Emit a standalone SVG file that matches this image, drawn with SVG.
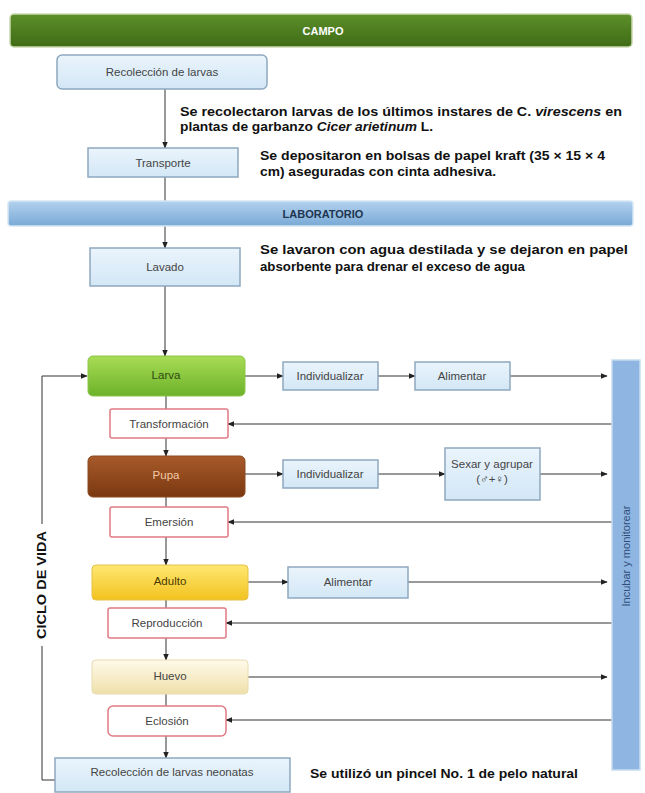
<svg xmlns="http://www.w3.org/2000/svg" width="645" height="793" viewBox="0 0 645 793">
<defs>
<linearGradient id="gGreenBar" x1="0" y1="0" x2="0" y2="1"><stop offset="0" stop-color="#5d8f2a"/><stop offset="1" stop-color="#3f6b16"/></linearGradient>
<linearGradient id="gBlueBar" x1="0" y1="0" x2="0" y2="1"><stop offset="0" stop-color="#b4d2ee"/><stop offset="1" stop-color="#78a9d6"/></linearGradient>
<linearGradient id="gBox" x1="0" y1="0" x2="0" y2="1"><stop offset="0" stop-color="#eaf4fc"/><stop offset="1" stop-color="#d3e7f6"/></linearGradient>
<linearGradient id="gLarva" x1="0" y1="0" x2="0" y2="1"><stop offset="0" stop-color="#a8dc55"/><stop offset="1" stop-color="#6cb22a"/></linearGradient>
<linearGradient id="gPupa" x1="0" y1="0" x2="0" y2="1"><stop offset="0" stop-color="#a85a2a"/><stop offset="1" stop-color="#7a3810"/></linearGradient>
<linearGradient id="gAdulto" x1="0" y1="0" x2="0" y2="1"><stop offset="0" stop-color="#ffe872"/><stop offset="1" stop-color="#f2c21e"/></linearGradient>
<linearGradient id="gHuevo" x1="0" y1="0" x2="0" y2="1"><stop offset="0" stop-color="#fffaea"/><stop offset="1" stop-color="#efe0aa"/></linearGradient>
<marker id="arr" viewBox="0 0 10 10" refX="9" refY="5" markerWidth="7" markerHeight="7" orient="auto-start-reverse" markerUnits="userSpaceOnUse"><path d="M0,1 L10,5 L0,9 Z" fill="#222"/></marker>
</defs>
<style>
.lbl{font-family:"Liberation Sans",Arial,sans-serif;font-size:11.5px;fill:#444;text-anchor:middle;dominant-baseline:central}
.note{font-family:"Liberation Sans",Arial,sans-serif;font-size:12px;font-weight:bold;fill:#111}
.bx{fill:url(#gBox);stroke:#8ea8bf;stroke-width:1.5}
.rd{fill:#fff;stroke:#e07a82;stroke-width:1.5}
.ln{fill:none;stroke:#333;stroke-width:1}
.ar{fill:none;stroke:#333;stroke-width:1;marker-end:url(#arr)}
</style>
<rect width="645" height="793" fill="#fff"/>

<g id="connectors">
<line class="ar" x1="165" y1="89" x2="165" y2="148"/>
<line class="ln" x1="165" y1="177" x2="165" y2="201"/>
<line class="ar" x1="165" y1="226" x2="165" y2="248"/>
<line class="ar" x1="165" y1="286" x2="165" y2="356"/>
<line class="ln" x1="166" y1="396" x2="166" y2="409"/>
<line class="ar" x1="166" y1="438" x2="166" y2="456"/>
<line class="ln" x1="166" y1="497" x2="166" y2="507"/>
<line class="ar" x1="166" y1="537" x2="166" y2="565"/>
<line class="ln" x1="166" y1="600" x2="166" y2="608"/>
<line class="ar" x1="166" y1="638" x2="166" y2="660"/>
<line class="ln" x1="166" y1="694" x2="166" y2="706"/>
<line class="ar" x1="166" y1="736" x2="166" y2="758"/>
<line class="ar" x1="245" y1="376" x2="283" y2="376"/>
<line class="ar" x1="378" y1="376" x2="415" y2="376"/>
<line class="ar" x1="510" y1="376" x2="607" y2="376"/>
<line class="ar" x1="245" y1="474" x2="283" y2="474"/>
<line class="ar" x1="378" y1="474" x2="445" y2="474"/>
<line class="ar" x1="540" y1="474" x2="607" y2="474"/>
<line class="ar" x1="248" y1="582" x2="288" y2="582"/>
<line class="ar" x1="408" y1="582" x2="607" y2="582"/>
<line class="ar" x1="248" y1="677" x2="607" y2="677"/>
<line class="ar" x1="612" y1="424" x2="228" y2="424"/>
<line class="ar" x1="612" y1="522" x2="228" y2="522"/>
<line class="ar" x1="612" y1="623" x2="226" y2="623"/>
<line class="ar" x1="612" y1="720" x2="226" y2="720"/>
<polyline class="ln" points="55,780 42,780 42,646"/>
<polyline class="ar" points="42,524 42,376 87,376"/>
</g>

<g id="campo"><rect x="10" y="14" width="622" height="33" rx="4" fill="url(#gGreenBar)" stroke="#c9d9b0" stroke-width="1.5"/><text x="323" y="30.5" class="lbl" style="fill:#fff;font-weight:bold;font-size:11px">CAMPO</text></g>
<g id="recoleccion"><rect class="bx" x="57" y="55" width="210" height="34" rx="5"/><text x="162" y="72" class="lbl">Recolección de larvas</text></g>
<g id="nota1"><text class="note" x="180" y="116" textLength="442" lengthAdjust="spacingAndGlyphs">Se recolectaron larvas de los últimos instares de C. <tspan font-style="italic">virescens</tspan> en</text><text class="note" x="180" y="131" textLength="253" lengthAdjust="spacingAndGlyphs">plantas de garbanzo <tspan font-style="italic">Cicer arietinum</tspan> L.</text></g>
<g id="transporte"><rect class="bx" x="88" y="148" width="150" height="29"/><text x="163" y="162.5" class="lbl">Transporte</text></g>
<g id="nota2"><text class="note" x="260" y="160" textLength="345" lengthAdjust="spacingAndGlyphs">Se depositaron en bolsas de papel kraft (35 × 15 × 4</text><text class="note" x="260" y="176" textLength="236" lengthAdjust="spacingAndGlyphs">cm) aseguradas con cinta adhesiva.</text></g>
<g id="laboratorio"><rect x="8" y="201" width="625" height="25" rx="3" fill="url(#gBlueBar)" stroke="#d6e6f4" stroke-width="1.5"/><text x="323" y="213.5" class="lbl" style="fill:#1f3550;font-weight:bold;font-size:11px">LABORATORIO</text></g>
<g id="lavado"><rect class="bx" x="90" y="248" width="150" height="38"/><text x="165" y="267" class="lbl">Lavado</text></g>
<g id="nota3"><text class="note" x="260" y="254" textLength="368" lengthAdjust="spacingAndGlyphs">Se lavaron con agua destilada y se dejaron en papel</text><text class="note" x="260" y="271" textLength="265" lengthAdjust="spacingAndGlyphs">absorbente para drenar el exceso de agua</text></g>

<g id="larva"><rect x="88" y="356" width="157" height="40" rx="5" fill="url(#gLarva)" stroke="#8cc44a"/><text x="166" y="375" class="lbl" style="fill:#2d4a10">Larva</text></g>
<g id="individualizar1"><rect class="bx" x="283" y="362" width="95" height="28"/><text x="330" y="376" class="lbl">Individualizar</text></g>
<g id="alimentar1"><rect class="bx" x="415" y="362" width="95" height="28"/><text x="462" y="376" class="lbl">Alimentar</text></g>
<g id="transformacion"><rect class="rd" x="110" y="409" width="118" height="29" rx="2"/><text x="169" y="423.5" class="lbl">Transformación</text></g>
<g id="pupa"><rect x="88" y="456" width="157" height="41" rx="5" fill="url(#gPupa)" stroke="#8a4a20"/><text x="166" y="475" class="lbl" style="fill:#f3c9a8">Pupa</text></g>
<g id="individualizar2"><rect class="bx" x="283" y="460" width="95" height="28"/><text x="330" y="474" class="lbl">Individualizar</text></g>
<g id="sexar"><rect class="bx" x="445" y="448" width="95" height="52"/><text x="492" y="464" class="lbl">Sexar y agrupar</text><text x="492" y="479" class="lbl">(♂+♀)</text></g>
<g id="emersion"><rect class="rd" x="110" y="507" width="118" height="30" rx="2"/><text x="169" y="522" class="lbl">Emersión</text></g>
<g id="adulto"><rect x="92" y="565" width="156" height="35" rx="4" fill="url(#gAdulto)" stroke="#e6c04a"/><text x="170" y="581" class="lbl" style="fill:#4a3a00">Adulto</text></g>
<g id="alimentar2"><rect class="bx" x="288" y="567" width="120" height="31"/><text x="348" y="582" class="lbl">Alimentar</text></g>
<g id="reproduccion"><rect class="rd" x="108" y="608" width="118" height="30" rx="2"/><text x="167" y="623" class="lbl">Reproducción</text></g>
<g id="huevo"><rect x="92" y="660" width="156" height="34" rx="4" fill="url(#gHuevo)" stroke="#e8dcb0"/><text x="170" y="676" class="lbl">Huevo</text></g>
<g id="eclosion"><rect class="rd" x="108" y="706" width="118" height="30" rx="5"/><text x="167" y="721" class="lbl">Eclosión</text></g>
<g id="neonatas"><rect class="bx" x="55" y="758" width="235" height="34"/><text x="172" y="772" class="lbl">Recolección de larvas neonatas</text></g>
<g id="nota4"><text class="note" x="310" y="778" textLength="268" lengthAdjust="spacingAndGlyphs">Se utilizó un pincel No. 1 de pelo natural</text></g>
<g id="incubar"><rect x="612" y="360" width="28" height="410" fill="#8fb6e2" stroke="#c8dcf0" stroke-width="1.5"/><text class="lbl" transform="translate(626,556) rotate(-90)" style="fill:#2f4f7a;font-size:11px">Incubar y monitorear</text></g>
<g id="ciclo"><text class="lbl" transform="translate(42,585) rotate(-90)" style="fill:#111;font-weight:bold;font-size:12px" textLength="108" lengthAdjust="spacingAndGlyphs">CICLO DE VIDA</text></g>
</svg>
